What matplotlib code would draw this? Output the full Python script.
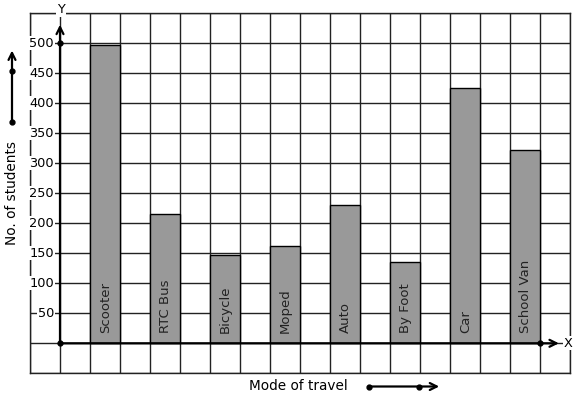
import matplotlib
matplotlib.use("Agg")
import matplotlib.pyplot as plt

categories = ["Scooter", "RTC Bus", "Bicycle", "Moped", "Auto", "By Foot", "Car", "School Van"]
students = [497, 215, 148, 162, 230, 135, 425, 322]
y_ticks = [50, 100, 150, 200, 250, 300, 350, 400, 450, 500]

fig = plt.figure(figsize=(5.77, 3.99), dpi=100)
ax = fig.add_axes([30/577, (399-373.3)/399, 540/577, 360/399])
ax.set_xlim(-1, 17)
ax.set_ylim(-50, 550)
ax.set_xticks(range(-1, 18))
ax.set_yticks(range(-50, 551, 50))
ax.tick_params(length=0, labelbottom=False, labelleft=False)
ax.grid(True, color="#222222", lw=1.0)
ax.set_axisbelow(True)
for s in ax.spines.values():
    s.set_color("#222222")
    s.set_linewidth(1.0)

xpos = [1.5 + 2*i for i in range(len(categories))]
ax.bar(xpos, students, width=1.0, color="#999999", edgecolor="black", linewidth=1.0, zorder=2)
for x, name in zip(xpos, categories):
    ax.text(x + 0.02, 17, name, rotation=90, ha="center", va="bottom", fontsize=9.5, color="#222222", zorder=3)

for t in y_ticks:
    ax.text(-0.2, t, str(t), ha="right", va="center", fontsize=9.3, color="black", zorder=4,
            bbox=dict(boxstyle="square,pad=0.05", fc="white", ec="none"))

# axes with arrows
ax.annotate("", xy=(0, 531), xytext=(0, 0),
            arrowprops=dict(arrowstyle="->,head_length=0.5,head_width=0.25", lw=1.6, color="black",
                            shrinkA=0, shrinkB=0), zorder=5)
ax.annotate("", xy=(16.63, 0), xytext=(0, 0),
            arrowprops=dict(arrowstyle="->,head_length=0.5,head_width=0.25", lw=1.6, color="black",
                            shrinkA=0, shrinkB=0), zorder=5)
ax.plot([0, 0, 16], [500, 0, 0], "o", color="black", ms=3.5, zorder=6)
ax.text(0.03, 557, "Y", ha="center", va="center", fontsize=9.3, zorder=6, clip_on=False,
        bbox=dict(boxstyle="square,pad=0.1", fc="white", ec="none"))
ax.text(16.95, 0, "X", ha="center", va="center", fontsize=9.3, zorder=6, clip_on=False,
        bbox=dict(boxstyle="square,pad=0.05", fc="white", ec="none"))

# y label and arrow
ax.text(-1.6, 250, "No. of students", rotation=90, ha="center", va="center", fontsize=9.8, clip_on=False)
ax.annotate("", xy=(-1.6, 488), xytext=(-1.6, 369), annotation_clip=False,
            arrowprops=dict(arrowstyle="->,head_length=0.5,head_width=0.25", lw=1.6, color="black",
                            shrinkA=0, shrinkB=0))
ax.plot([-1.6, -1.6], [369, 454], "o", color="black", ms=3.5, clip_on=False)

# x label and arrow
ax.text(7.93, -71, "Mode of travel", ha="center", va="center", fontsize=9.8, clip_on=False)
ax.annotate("", xy=(12.64, -72), xytext=(10.3, -72), annotation_clip=False,
            arrowprops=dict(arrowstyle="->,head_length=0.5,head_width=0.25", lw=1.6, color="black",
                            shrinkA=0, shrinkB=0))
ax.plot([10.3, 11.98], [-72, -72], "o", color="black", ms=3.5, clip_on=False)

fig.savefig("out.png", dpi=100)
